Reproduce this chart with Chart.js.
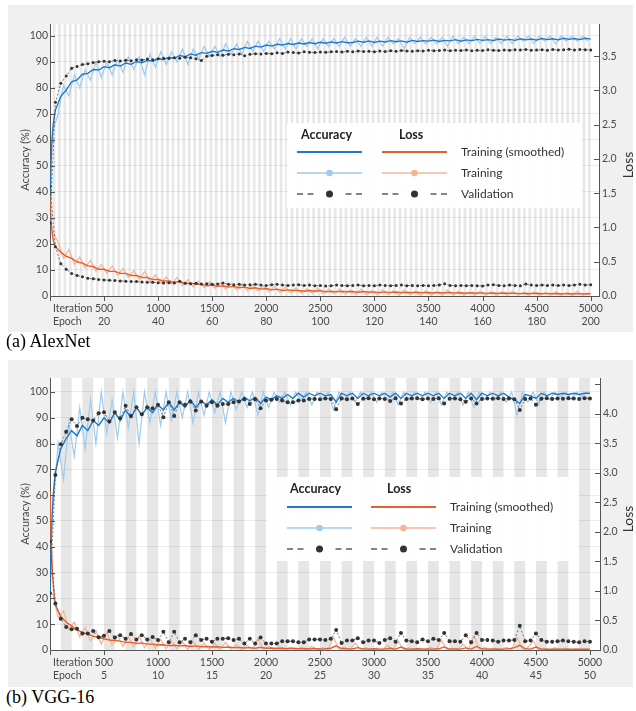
<!DOCTYPE html>
<html>
<head>
<meta charset="utf-8">
<script src="https://cdn.jsdelivr.net/npm/chart.js@4.4.1/dist/chart.umd.min.js"></script>
<style>
  body { margin: 0; background: #fff; width: 636px; height: 711px; position: relative; overflow: hidden; }
  .panel { position: absolute; left: 8px; width: 625px; height: 327px; background: #f0f0f0; }
  .panel canvas { display: block; }
  .cap { position: absolute; left: 6px; font: 18px/18px "Liberation Serif", "Times New Roman", serif; color: #000; }
</style>
</head>
<body>
<div class="panel" style="top:5px"><canvas id="c1" width="625" height="327"></canvas></div>
<div class="cap" style="top:332px">(a) AlexNet</div>
<div class="panel" style="top:360px"><canvas id="c2" width="625" height="327"></canvas></div>
<div class="cap" style="top:688px">(b) VGG-16</div>
<script>
// tick labels
const iterTicks = [500, 1000, 1500, 2000, 2500, 3000, 3500, 4000, 4500, 5000];
const alexEpochTicks = [20, 40, 60, 80, 100, 120, 140, 160, 180, 200];
const vggEpochTicks = [5, 10, 15, 20, 25, 30, 35, 40, 45, 50];

// first iterations (0,10,20,30,40), then smoothed every 50 its, raw every 50 from 25, validation every 50 from 0
const headIter = [0, 10, 20, 30, 40];

// AlexNet
const alexAccHead = [28, 52, 61, 66, 69];
const alexAccSmooth = [71.5,76.8,79.2,82.4,83.1,85.3,85.6,87.1,86.9,88.2,
  87.8,88.9,88.4,89.6,89.1,90.2,89.7,90.6,90.3,91.2,
  90.9,91.8,91.4,92.5,92.0,93.1,92.6,93.6,93.3,94.1,
  93.7,94.6,94.2,95.1,94.8,95.6,95.2,96.1,95.7,96.5,
  96.1,96.8,96.5,97.1,96.7,97.3,96.9,97.5,97.0,97.6,
  97.2,97.7,97.3,97.8,97.4,97.5,98.0,97.6,98.1,97.5,
  98.0,97.7,98.2,97.8,98.1,97.6,98.3,97.9,98.2,98.0,
  98.4,97.9,98.3,98.1,98.6,98.0,98.5,98.2,98.7,98.3,
  98.6,98.2,98.8,98.4,98.7,98.3,98.9,98.5,98.8,98.4,
  99.0,98.6,98.9,98.5,99.1,98.7,99.0,98.6,99.1,98.8];
const alexAccRaw = [63,70,81,77,85,80,87,83,90,84,
  90,85,91,86,92,87,92,85,93,88,
  94,89,94,90,95,89,95,91,96,92,
  96,92,97,93,97,93,98,94,98,94,
  98,95,99,95,99,95,99,96,99,95,
  99,96,99,96,99.5,96,99,96,99.5,96,
  99.5,96,99.5,97,99,95,99.5,97,99.5,97,
  99.5,97,99.5,96,100,97,99.5,97,100,97,
  100,97,99.5,97,100,97,100,98,100,97,
  100,98,100,97,100,98,100,98,100,98];
const alexAccVal = [28,
  74.5,81.8,84.6,87.6,88.3,89.0,89.3,89.8,90.1,90.3,
  90.1,90.6,90.4,90.7,90.5,90.9,90.8,91.1,90.9,91.2,
  91.4,91.3,91.6,91.4,91.8,91.6,91.2,90.6,92.2,92.5,
  92.8,92.6,93.0,92.8,93.1,92.4,93.0,93.2,93.1,93.3,
  93.2,93.5,93.3,93.8,93.6,93.4,93.9,93.7,93.6,93.8,
  93.7,93.9,94.0,93.8,94.1,93.9,94.2,94.0,94.1,93.9,
  94.2,94.0,94.3,94.1,94.4,94.2,94.1,94.3,94.2,94.5,
  94.3,94.4,94.6,94.3,94.5,94.4,94.6,94.3,94.5,94.4,
  94.7,94.5,94.4,94.6,94.5,94.7,94.6,94.8,94.5,94.6,
  94.7,94.5,94.8,94.6,94.7,94.9,94.6,94.8,94.7,94.6];
const alexLossHead = [1.45, 1.1, 0.92, 0.82, 0.76];
const alexLossSmooth = [0.72,0.64,0.58,0.55,0.50,0.48,0.44,0.43,0.39,0.39,
  0.36,0.36,0.33,0.33,0.30,0.30,0.27,0.27,0.24,0.24,
  0.22,0.22,0.20,0.21,0.18,0.19,0.17,0.17,0.15,0.16,
  0.14,0.15,0.13,0.14,0.12,0.13,0.11,0.12,0.10,0.11,
  0.09,0.10,0.08,0.09,0.08,0.08,0.07,0.08,0.07,0.08,
  0.06,0.07,0.06,0.07,0.06,0.065,0.055,0.065,0.055,0.06,
  0.05,0.06,0.05,0.058,0.048,0.055,0.047,0.055,0.045,0.052,
  0.044,0.05,0.043,0.05,0.042,0.048,0.04,0.047,0.04,0.046,
  0.038,0.044,0.037,0.043,0.036,0.042,0.035,0.04,0.034,0.04,
  0.033,0.038,0.032,0.037,0.031,0.036,0.03,0.035,0.029,0.032];
const alexLossRaw = [0.95,0.78,0.55,0.68,0.46,0.57,0.41,0.52,0.36,0.46,
  0.33,0.44,0.30,0.40,0.27,0.37,0.24,0.36,0.21,0.31,
  0.19,0.28,0.17,0.27,0.15,0.24,0.13,0.22,0.12,0.21,
  0.11,0.19,0.10,0.18,0.09,0.17,0.08,0.16,0.07,0.15,
  0.06,0.14,0.05,0.13,0.05,0.12,0.04,0.11,0.04,0.12,
  0.03,0.10,0.03,0.10,0.03,0.09,0.02,0.10,0.02,0.08,
  0.02,0.09,0.02,0.08,0.01,0.09,0.02,0.07,0.01,0.08,
  0.01,0.07,0.01,0.09,0.01,0.07,0.01,0.06,0.01,0.07,
  0.01,0.06,0.01,0.06,0.01,0.07,0.01,0.05,0.01,0.06,
  0.01,0.05,0.01,0.06,0.01,0.05,0.01,0.07,0.01,0.05];
const alexLossVal = [1.6,
  0.72,0.47,0.39,0.33,0.30,0.28,0.26,0.25,0.24,0.235,
  0.23,0.225,0.22,0.215,0.21,0.21,0.205,0.20,0.20,0.195,
  0.19,0.195,0.19,0.215,0.185,0.18,0.185,0.175,0.18,0.17,
  0.175,0.19,0.17,0.165,0.17,0.16,0.165,0.17,0.16,0.155,
  0.165,0.17,0.16,0.155,0.16,0.165,0.155,0.16,0.15,0.155,
  0.145,0.15,0.16,0.155,0.15,0.155,0.16,0.15,0.155,0.15,
  0.16,0.155,0.15,0.155,0.16,0.15,0.155,0.15,0.155,0.15,
  0.155,0.16,0.18,0.155,0.15,0.155,0.15,0.155,0.15,0.145,
  0.16,0.165,0.155,0.15,0.16,0.155,0.15,0.175,0.16,0.155,
  0.16,0.155,0.16,0.155,0.16,0.155,0.16,0.17,0.16,0.165];

// VGG-16
const vggAccHead = [20, 40, 52, 60, 65];
const vggAccSmooth = [69,78,82,85,83,87,85,89,87,90,
  88,92,89,93,90,94,91,94,92,95,
  93,96,93,96,94,97,94,96.5,95,97,
  95,97.5,96,97.5,96,98,96.5,98,95.5,98,
  97,98.5,97.5,99,97.5,99.5,98,99.5,98.5,99.5,
  98.5,99,96,99.5,98.5,99.5,97.5,99.5,98.5,99.5,
  98.5,99.5,98,99.5,97.5,99.5,98.5,99.5,98.5,99.5,
  98.5,99.5,97.5,99.5,98.5,99.5,97.5,99.5,97,99.5,
  98.5,99.5,98.5,99.5,98,97,95.5,99,98.5,97.5,
  99.5,98.5,99.5,99,99.5,99,99.5,99,99.5,99.5];
const vggAccRaw = [55,80,66,88,75,94,78,97,80,100,
  84,97,82,100,86,100,80,100,88,100,
  87,100,89,100,90,100,88,100,91,100,
  92,100,88,100,93,100,94,100,91,100,
  94,100,96,100,95,100,97,100,95,100,
  97,100,93,100,97,100,96,100,97,100,
  96,100,97,100,95,100,97,100,97,100,
  96,100,95,100,97,100,95,100,94,100,
  97,100,97,100,96,100,91,100,96,100,
  95,100,97,100,98,100,97,100,98,100];
const vggAccVal = [22,
  67.8,79.7,84.6,89.4,86.8,90,89.4,88.9,91.7,92.1,
  88.5,92.1,89.8,94.6,90.7,94.1,91.4,94.1,93.7,95,
  90.2,96,90.7,96,95,96.3,92.8,96.3,94.6,96,
  94.6,95.3,95.3,96,96.3,97.2,95.3,97.2,93.7,96.7,
  97,97.3,96.7,96,96,96.7,96.7,97.3,97.3,97.2,
  97.5,97.3,93.3,97.5,97.2,97.5,95.3,97.4,97.6,97.2,
  97.5,97.3,96.5,97.6,95.5,97.3,97.5,97.6,97.2,97.5,
  97.3,97.6,95.5,97.4,97.5,97.2,96.2,97.5,95.5,97.3,
  97.5,97.4,97.6,97.3,97.5,97.2,93.0,97.3,97.5,95.0,
  97.4,97.6,97.3,97.5,97.4,97.6,97.5,97.3,97.6,97.5];
const vggLossHead = [2.7, 1.9, 1.4, 1.1, 0.9];
const vggLossSmooth = [0.76,0.57,0.47,0.41,0.34,0.30,0.27,0.23,0.22,0.19,
  0.17,0.16,0.15,0.13,0.13,0.11,0.12,0.10,0.10,0.085,
  0.09,0.075,0.08,0.07,0.075,0.06,0.07,0.055,0.06,0.05,
  0.055,0.045,0.05,0.04,0.045,0.035,0.04,0.03,0.045,0.03,
  0.035,0.025,0.03,0.02,0.03,0.02,0.025,0.018,0.025,0.018,
  0.022,0.03,0.07,0.025,0.02,0.018,0.04,0.02,0.015,0.02,
  0.015,0.018,0.03,0.015,0.05,0.018,0.015,0.02,0.015,0.018,
  0.015,0.02,0.05,0.015,0.018,0.015,0.035,0.015,0.06,0.02,
  0.015,0.018,0.012,0.015,0.02,0.04,0.08,0.02,0.015,0.05,
  0.015,0.012,0.015,0.012,0.015,0.012,0.015,0.012,0.015,0.012];
const vggLossRaw = [0.95,0.55,0.66,0.35,0.48,0.22,0.38,0.15,0.33,0.10,
  0.30,0.08,0.25,0.06,0.22,0.05,0.24,0.04,0.19,0.03,
  0.18,0.02,0.16,0.02,0.14,0.01,0.15,0.01,0.12,0.01,
  0.11,0.01,0.13,0.01,0.09,0.005,0.08,0.005,0.2,0.005,
  0.07,0.005,0.06,0.005,0.05,0.005,0.04,0.005,0.06,0.005,
  0.04,0.005,0.22,0.005,0.05,0.005,0.12,0.005,0.04,0.005,
  0.03,0.005,0.08,0.005,0.15,0.005,0.04,0.005,0.03,0.005,
  0.05,0.005,0.17,0.005,0.03,0.005,0.1,0.005,0.25,0.005,
  0.04,0.005,0.03,0.005,0.05,0.005,0.22,0.005,0.04,0.15,
  0.005,0.03,0.005,0.04,0.005,0.03,0.005,0.02,0.005,0.02];
const vggLossVal = [1.84,
  0.79,0.53,0.39,0.35,0.36,0.28,0.28,0.32,0.215,0.24,
  0.32,0.21,0.25,0.19,0.27,0.18,0.25,0.18,0.22,0.17,
  0.31,0.13,0.31,0.13,0.19,0.13,0.25,0.17,0.19,0.14,
  0.19,0.19,0.2,0.17,0.19,0.11,0.19,0.11,0.21,0.11,
  0.11,0.11,0.15,0.15,0.15,0.13,0.13,0.18,0.18,0.18,
  0.17,0.19,0.34,0.12,0.16,0.16,0.2,0.13,0.16,0.16,
  0.12,0.17,0.2,0.14,0.29,0.16,0.15,0.13,0.18,0.15,
  0.19,0.17,0.29,0.15,0.15,0.14,0.25,0.13,0.29,0.17,
  0.17,0.16,0.14,0.16,0.16,0.17,0.41,0.15,0.16,0.28,
  0.17,0.14,0.14,0.15,0.16,0.15,0.14,0.13,0.15,0.14];

const FONT = 'Lato, "Open Sans", "DejaVu Sans", sans-serif';
const BLUE = '#1f78c8', LBLUE = '#9fcbee', ORANGE = '#e5602b', LORANGE = '#f4b497';
const VALDOT = '#333333', VALLINE = '#555555';

Chart.defaults.font.family = FONT;
Chart.defaults.font.size = 10.5;
Chart.defaults.color = '#4a4a4a';

function seq(start, step, n) {
  const out = [];
  for (let i = 0; i < n; i++) out.push(start + i * step);
  return out;
}
function pts(iters, vals) {
  return vals.map((v, i) => ({ x: iters[i], y: v }));
}

const panels = [
  {
    canvas: 'c1', ipe: 25, epochs: 200, epochTicks: alexEpochTicks, band: '#e8e8e8',
    xMax: 5077, accMax: 104.6, lossMax: 3.97, padTop: 19, rightW: 34, bottomH: 36, valR: 1.5,
    box: { x: 279, y: 118, w: 295, h: 85 },
    leg: { acc: 293, loss: 391, head: 130, a0: 289, l0: 374, len: 65, text: 453, rows: [147, 168, 189] },
    d: { accHead: alexAccHead, accSmooth: alexAccSmooth, accRaw: alexAccRaw, accVal: alexAccVal,
         lossHead: alexLossHead, lossSmooth: alexLossSmooth, lossRaw: alexLossRaw, lossVal: alexLossVal }
  },
  {
    canvas: 'c2', ipe: 100, epochs: 50, epochTicks: vggEpochTicks, band: '#e6e6e6',
    xMax: 5093, accMax: 105.4, lossMax: 4.61, padTop: 18, rightW: 33, bottomH: 37, valR: 2,
    box: { x: 259, y: 117, w: 311, h: 84 },
    leg: { acc: 282, loss: 379, head: 129, a0: 279, l0: 363, len: 65, text: 442, rows: [147, 168, 189] },
    d: { accHead: vggAccHead, accSmooth: vggAccSmooth, accRaw: vggAccRaw, accVal: vggAccVal,
         lossHead: vggLossHead, lossSmooth: vggLossSmooth, lossRaw: vggLossRaw, lossVal: vggLossVal }
  }
];

function decor(p) {
  return {
    id: 'decor',
    beforeDraw(chart) {
      const { ctx, chartArea: a, scales: { x } } = chart;
      ctx.save();
      ctx.fillStyle = '#fff';
      ctx.fillRect(a.left, a.top, a.right - a.left, a.bottom - a.top);
      // alternate epoch bands
      ctx.fillStyle = p.band;
      for (let e = 2; e <= p.epochs; e += 2) {
        const x0 = x.getPixelForValue((e - 1) * p.ipe), x1 = x.getPixelForValue(e * p.ipe);
        ctx.fillRect(x0, a.top, x1 - x0, a.bottom - a.top);
      }
      ctx.restore();
    },
    beforeDatasetsDraw(chart) {
      const ctx = chart.ctx, b = p.box;
      ctx.save();
      ctx.fillStyle = 'rgba(255,255,255,0.96)';
      ctx.fillRect(b.x, b.y, b.w, b.h);
      ctx.restore();
    },
    afterDraw(chart) {
      const { ctx, chartArea: a, scales } = chart;
      ctx.save();
      ctx.strokeStyle = '#555';
      ctx.lineWidth = 1;
      ctx.beginPath();
      // inward tick marks on both y axes
      scales.y.ticks.forEach(t => {
        const py = Math.round(scales.y.getPixelForValue(t.value)) + 0.5;
        ctx.moveTo(a.left, py); ctx.lineTo(a.left + 5, py);
      });
      scales.y1.ticks.forEach(t => {
        const py = Math.round(scales.y1.getPixelForValue(t.value)) + 0.5;
        ctx.moveTo(a.right - 5, py); ctx.lineTo(a.right, py);
      });
      // outward tick marks on the x axis
      [0].concat(iterTicks).forEach(v => {
        const px = Math.round(scales.x.getPixelForValue(v)) + 0.5;
        ctx.moveTo(px, a.bottom); ctx.lineTo(px, a.bottom + 5);
      });
      ctx.stroke();

      // axis titles
      const cy = (a.top + a.bottom) / 2;
      ctx.fillStyle = '#444';
      ctx.textAlign = 'center';
      ctx.textBaseline = 'middle';
      ctx.font = '11px ' + FONT;
      ctx.save(); ctx.translate(17, cy); ctx.rotate(-Math.PI / 2); ctx.fillText('Accuracy (%)', 0, 0); ctx.restore();
      ctx.font = '14px ' + FONT;
      ctx.fillStyle = '#333';
      ctx.save(); ctx.translate(620, cy + 5); ctx.rotate(-Math.PI / 2); ctx.fillText('Loss', 0, 0); ctx.restore();

      // x tick labels: iteration row and epoch row, placed through the x scale
      ctx.font = '10.5px ' + FONT;
      ctx.fillStyle = '#4a4a4a';
      ctx.textAlign = 'center';
      iterTicks.forEach((v, i) => {
        const px = scales.x.getPixelForValue(v);
        ctx.fillText(String(v), px, a.bottom + 12.5);
        ctx.fillText(String(p.epochTicks[i]), px, a.bottom + 25.5);
      });
      ctx.textAlign = 'left';
      ctx.fillText('Iteration', a.left + 3, a.bottom + 12.5);
      ctx.fillText('Epoch', a.left + 3, a.bottom + 25.5);

      // legend
      const L = p.leg;
      ctx.font = 'bold 12.5px ' + FONT;
      ctx.fillStyle = '#222';
      ctx.fillText('Accuracy', L.acc, L.head);
      ctx.fillText('Loss', L.loss, L.head);
      const seg = (x0, x1, y, color, w) => {
        ctx.strokeStyle = color; ctx.lineWidth = w;
        ctx.beginPath(); ctx.moveTo(x0, y); ctx.lineTo(x1, y); ctx.stroke();
      };
      const dot = (x, y, r, color) => {
        ctx.fillStyle = color; ctx.beginPath(); ctx.arc(x, y, r, 0, Math.PI * 2); ctx.fill();
      };
      const dashed = (x0, y) => {
        [[0, 6], [10.5, 16.5], [L.len - 16.5, L.len - 10.5], [L.len - 6, L.len]].forEach(s => seg(x0 + s[0], x0 + s[1], y, '#666', 1.6));
        dot(x0 + L.len / 2, y, 3.5, VALDOT);
      };
      const [r0, r1, r2] = L.rows;
      seg(L.a0, L.a0 + L.len, r0, BLUE, 2);
      seg(L.l0, L.l0 + L.len, r0, ORANGE, 2);
      seg(L.a0, L.a0 + L.len, r1, LBLUE, 1.5); dot(L.a0 + L.len / 2, r1, 3.3, LBLUE);
      seg(L.l0, L.l0 + L.len, r1, LORANGE, 1.5); dot(L.l0 + L.len / 2, r1, 3.3, LORANGE);
      dashed(L.a0, r2);
      dashed(L.l0, r2);
      ctx.font = '12px ' + FONT;
      ctx.fillStyle = '#333';
      ctx.fillText('Training (smoothed)', L.text, r0);
      ctx.fillText('Training', L.text, r1);
      ctx.fillText('Validation', L.text, r2);
      ctx.restore();
    }
  };
}

function build(p) {
  const d = p.d;
  const smIter = headIter.concat(seq(50, 50, 100));
  const rawIter = seq(25, 50, 100);
  const valIter = seq(0, 50, 101);
  const line = (data, axis, color, width, order, extra) => Object.assign({
    data, yAxisID: axis, borderColor: color, borderWidth: width, pointRadius: 0, tension: 0, order
  }, extra || {});
  const val = (vals, axis, order) => line(pts(valIter, vals), axis, VALLINE, 0.8, order, {
    borderDash: [2, 2], pointRadius: p.valR, pointBackgroundColor: VALDOT, pointBorderWidth: 0
  });

  new Chart(document.getElementById(p.canvas), {
    type: 'line',
    data: {
      datasets: [
        line(pts(rawIter, d.accRaw), 'y', LBLUE, 1.2, 6),
        line(pts(rawIter, d.lossRaw), 'y1', LORANGE, 1.2, 5),
        line(pts(smIter, d.accHead.concat(d.accSmooth)), 'y', BLUE, 1.4, 4),
        line(pts(smIter, d.lossHead.concat(d.lossSmooth)), 'y1', ORANGE, 1.4, 3),
        val(d.accVal, 'y', 2),
        val(d.lossVal, 'y1', 1)
      ]
    },
    options: {
      responsive: false,
      animation: false,
      layout: { padding: { top: p.padTop, left: 0, right: 0, bottom: 0 } },
      plugins: { legend: { display: false }, tooltip: { enabled: false } },
      scales: {
        x: {
          type: 'linear', min: 0, max: p.xMax,
          afterFit: s => { s.height = p.bottomH; },
          ticks: { display: false },
          grid: { drawOnChartArea: false, drawTicks: false },
          border: { color: '#555' }
        },
        y: {
          position: 'left', min: 0, max: p.accMax,
          afterFit: s => { s.width = 42; },
          ticks: { stepSize: 10, includeBounds: false, padding: 2 },
          grid: { drawTicks: false, color: 'rgba(0,0,0,0.07)' },
          border: { color: '#555' }
        },
        y1: {
          position: 'right', min: 0, max: p.lossMax,
          afterFit: s => { s.width = p.rightW; },
          ticks: { stepSize: 0.5, includeBounds: false, padding: 3, callback: v => v >= 4.5 ? '' : v.toFixed(1) },
          grid: { drawOnChartArea: false, drawTicks: false },
          border: { color: '#555' }
        }
      }
    },
    plugins: [decor(p)]
  });
}

panels.forEach(build);
</script>
</body>
</html>
